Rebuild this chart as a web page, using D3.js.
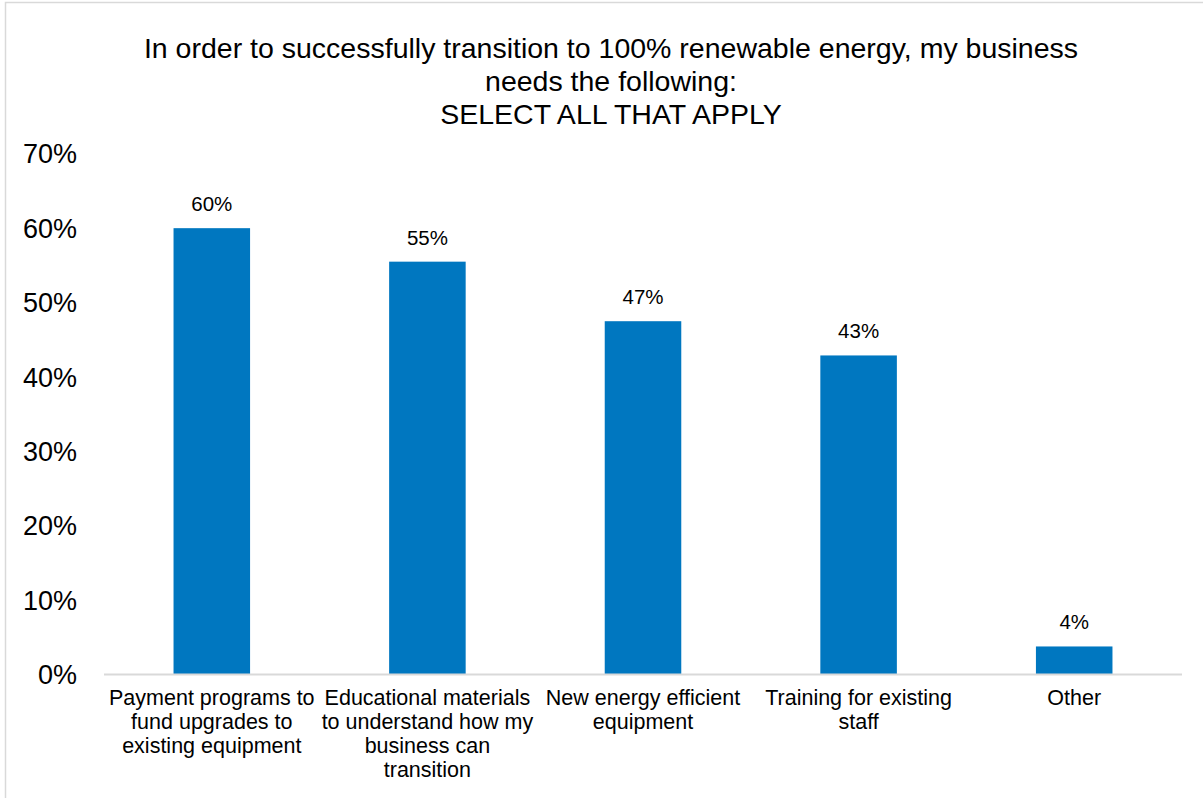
<!DOCTYPE html>
<html>
<head>
<meta charset="utf-8">
<title>Renewable transition needs</title>
<script src="https://cdn.jsdelivr.net/npm/d3@7/dist/d3.min.js"></script>
<style>
  body { margin: 0; background: #fff; }
  text { font-family: "Liberation Sans", Arial, sans-serif; fill: #000; }
</style>
</head>
<body>
<div id="chart"></div>
<script>
var titleLines = ["In order to successfully transition to 100% renewable energy, my business",
                  "needs the following:",
                  "SELECT ALL THAT APPLY"];
var categories = [
  ["Payment programs to", "fund upgrades to", "existing equipment"],
  ["Educational materials", "to understand how my", "business can", "transition"],
  ["New energy efficient", "equipment"],
  ["Training for existing", "staff"],
  ["Other"]
];
var values = [0.599, 0.554, 0.474, 0.428, 0.037];
var yTicks = [0, 0.1, 0.2, 0.3, 0.4, 0.5, 0.6, 0.7];

var W = 1203, H = 798;
var svg = d3.select("#chart").append("svg")
  .attr("width", W).attr("height", H);

// outer frame
svg.append("rect")
  .attr("x", 5.5).attr("y", 2.5)
  .attr("width", 1220).attr("height", 820)
  .attr("fill", "none").attr("stroke", "#d9d9d9").attr("stroke-width", 1.5);

svg.append("g").selectAll("text")
  .data(titleLines)
  .enter().append("text")
  .attr("x", 611)
  .attr("y", function(d, i) { return 58 + i * 33; })
  .attr("text-anchor", "middle")
  .style("font-size", "28.5px")
  .text(function(d) { return d; });

var x = d3.scaleBand()
  .domain(d3.range(categories.length))
  .range([104, 1182])
  .paddingInner(0.645)
  .paddingOuter(0.3225);

var y = d3.scaleLinear()
  .domain([0, 0.7])
  .range([674, 153]);

// y labels (no axis line)
var yAxis = svg.append("g")
  .attr("transform", "translate(77,0)")
  .call(d3.axisLeft(y).tickValues(yTicks).tickFormat(d3.format(".0%")).tickSize(0).tickPadding(0));
yAxis.select(".domain").remove();
yAxis.selectAll("text")
  .style("font-size", "27px")
  .style("font-family", "'Liberation Sans', Arial, sans-serif")
  .attr("fill", "#000")
  .attr("dy", "0.36em");

svg.append("g").selectAll("rect")
  .data(values)
  .enter().append("rect")
  .attr("x", function(d, i) { return x(i); })
  .attr("y", function(d) { return y(d); })
  .attr("width", x.bandwidth())
  .attr("height", function(d) { return y(0) - y(d); })
  .attr("fill", "#0077c0");

// baseline
svg.append("line")
  .attr("x1", 104).attr("x2", 1182)
  .attr("y1", y(0) + 0.5).attr("y2", y(0) + 0.5)
  .attr("stroke", "#d9d9d9").attr("stroke-width", 2);

svg.append("g").selectAll("text")
  .data(values)
  .enter().append("text")
  .attr("x", function(d, i) { return x(i) + x.bandwidth() / 2; })
  .attr("y", function(d) { return y(d) - 17; })
  .attr("text-anchor", "middle")
  .style("font-size", "20.5px")
  .text(function(d) { return d3.format(".0%")(d); });

var cat = svg.append("g").selectAll("text")
  .data(categories)
  .enter().append("text")
  .attr("text-anchor", "middle")
  .attr("transform", function(d, i) { return "translate(" + (x(i) + x.bandwidth() / 2) + ",705)"; })
  .style("font-size", "21.5px");
cat.selectAll("tspan")
  .data(function(d) { return d; })
  .enter().append("tspan")
  .attr("x", 0)
  .attr("y", function(d, i) { return i * 24; })
  .text(function(d) { return d; });
</script>
</body>
</html>
